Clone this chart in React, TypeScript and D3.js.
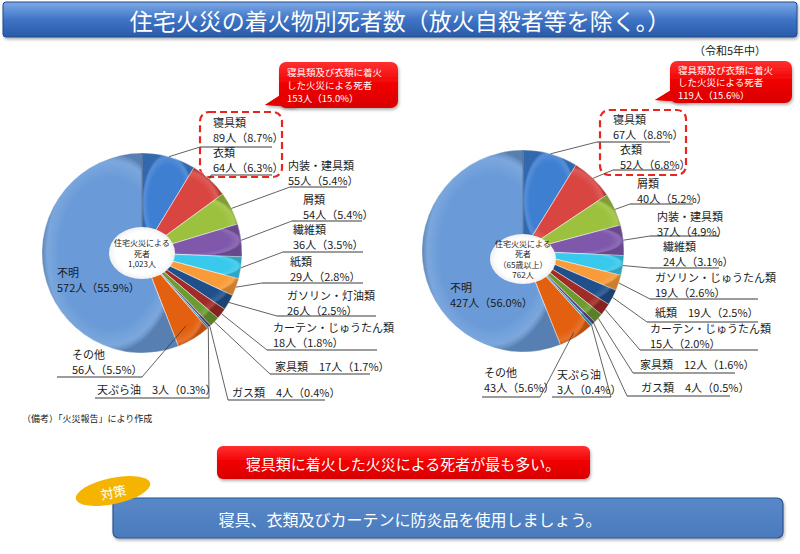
import React from "react";
import * as d3 from "d3";

const FONT = '"Noto Sans CJK JP", "Noto Sans", sans-serif';

// ---------- data ----------
const leftCategories = ["寝具類", "衣類", "内装・建具類", "屑類", "繊維類", "紙類", "ガソリン・灯油類", "カーテン・じゅうたん類", "家具類", "ガス類", "天ぷら油", "その他", "不明"];
const leftValues = [89, 64, 55, 54, 36, 29, 26, 18, 17, 4, 3, 56, 572];
const leftPercents = ["8.7", "6.3", "5.4", "5.4", "3.5", "2.8", "2.5", "1.8", "1.7", "0.4", "0.3", "5.5", "55.9"];

const rightCategories = ["寝具類", "衣類", "屑類", "内装・建具類", "繊維類", "ガソリン・じゅうたん類", "紙類", "カーテン・じゅうたん類", "家具類", "ガス類", "天ぷら油", "その他", "不明"];
const rightValues = [67, 52, 40, 37, 24, 19, 19, 15, 12, 4, 3, 43, 427];
const rightPercents = ["8.8", "6.8", "5.2", "4.9", "3.1", "2.6", "2.5", "2.0", "1.6", "0.5", "0.4", "5.6", "56.0"];

const leftCallout = ["寝具類及び衣類に着火", "した火災による死者", "153人（15.0%）"];
const rightCallout = ["寝具類及び衣類に着火", "した火災による死者", "119人（15.6%）"];
const leftCenter = ["住宅火災による", "死者"];
const rightCenter = ["住宅火災による", "死者", "（65歳以上）"];

const titleText = "住宅火災の着火物別死者数（放火自殺者等を除く。）";
const yearText = "（令和5年中）";
const noteText = "（備考）「火災報告」により作成";
const conclusionText = "寝具類に着火した火災による死者が最も多い。";
const measureTag = "対策";
const measureText = "寝具、衣類及びカーテンに防炎品を使用しましょう。";

// ---------- styles ----------
const sliceColors = ["#3e7fd2", "#d94541", "#9cc13e", "#7f58ab", "#38c9ec", "#f89b38", "#1f508c", "#a12b26", "#6c9b32", "#5b4081", "#2a9bbf", "#e36010", "#6a9bd8"];

type Lbl = { x: number; y: number; one?: boolean; uy?: number; ux1?: number; ux2?: number; end?: "l" | "r"; k?: number };

const leftLayout: Lbl[] = [
  { x: 213, y: 127, uy: 147, ux1: 200, ux2: 272, end: "l" },
  { x: 213, y: 157, uy: 175, ux1: 211, ux2: 272, end: "l" },
  { x: 288, y: 170, uy: 187, ux1: 290, ux2: 347, end: "l" },
  { x: 303, y: 204, uy: 221, ux1: 292, ux2: 362, end: "l" },
  { x: 293, y: 234, uy: 252, ux1: 283, ux2: 363, end: "l" },
  { x: 290, y: 266, uy: 283, ux1: 262, ux2: 363, end: "l" },
  { x: 287, y: 300, uy: 316, ux1: 277, ux2: 376, end: "l" },
  { x: 273, y: 332, uy: 350, ux1: 267, ux2: 377, end: "l" },
  { x: 275, y: 371, one: true, uy: 374, ux1: 270, ux2: 370, end: "l" },
  { x: 232, y: 397, one: true, uy: 400, ux1: 228, ux2: 325, end: "l" },
  { x: 97, y: 394, one: true, uy: 398, ux1: 95, ux2: 209, end: "r" },
  { x: 72, y: 359, uy: 377, ux1: 57, ux2: 142, end: "r", k: 0.85 },
  { x: 57, y: 277 },
];

const rightLayout: Lbl[] = [
  { x: 613, y: 124, uy: 142, ux1: 597, ux2: 670, end: "l" },
  { x: 620, y: 154, uy: 170, ux1: 613, ux2: 676, end: "l" },
  { x: 637, y: 188, uy: 204, ux1: 630, ux2: 693, end: "l" },
  { x: 657, y: 221, uy: 236, ux1: 650, ux2: 719, end: "l" },
  { x: 663, y: 251, uy: 268, ux1: 650, ux2: 719, end: "l" },
  { x: 655, y: 282, uy: 299, ux1: 650, ux2: 758, end: "l" },
  { x: 655, y: 317, one: true, uy: 322, ux1: 647, ux2: 758, end: "l" },
  { x: 650, y: 333, uy: 350, ux1: 640, ux2: 758, end: "l" },
  { x: 640, y: 369, one: true, uy: 373, ux1: 633, ux2: 735, end: "l" },
  { x: 641, y: 392, one: true, uy: 396, ux1: 627, ux2: 730, end: "l" },
  { x: 557, y: 379, uy: 397, ux1: 552, ux2: 611, end: "r" },
  { x: 484, y: 377, uy: 397, ux1: 482, ux2: 540, end: "r", k: 0.95 },
  { x: 450, y: 292 },
];

type PieProps = {
  id: string; cx: number; cy: number; r: number;
  categories: string[]; values: number[]; percents: string[];
  layout: Lbl[]; centerLines: string[]; rx: number; ry: number; ccy: number;
};

function Pie({ id, cx, cy, r, categories, values, percents, layout, centerLines, rx, ry, ccy }: PieProps) {
  const pie = d3.pie<number>().sort(null).value((d) => d).startAngle(0).endAngle(2 * Math.PI);
  const arcs = pie(values);
  const arc = d3.arc<d3.PieArcDatum<number>>().innerRadius(0).outerRadius(r);
  const total = d3.sum(values);
  const fmt = d3.format(",");
  const lines = [...centerLines, `${fmt(total)}人`];
  return (
    <g>
      <defs>
        <radialGradient id={`${id}-shade`} cx="0.5" cy="0.5" r="0.5">
          <stop offset="0.75" stopColor="#ffffff" stopOpacity="0" />
          <stop offset="0.92" stopColor="#ffffff" stopOpacity="0.12" />
          <stop offset="1" stopColor="#000000" stopOpacity="0.18" />
        </radialGradient>
        <radialGradient id={`${id}-hole`} cx="0.5" cy="0.5" r="0.5">
          <stop offset="0.8" stopColor="#ffffff" />
          <stop offset="1" stopColor="#f0f0f0" />
        </radialGradient>
      </defs>
      <g transform={`translate(${cx},${cy})`}>
        {arcs.map((a, i) => (
          <path key={i} d={arc(a) || ""} fill={sliceColors[i]} stroke="#ffffff" strokeOpacity={0.6} strokeWidth={0.8} />
        ))}
        {arcs.map((a, i) => (
          <path key={`s${i}`} d={arc(a) || ""} fill={`url(#${id}-shade)`} />
        ))}
        <line x1={0} y1={0} x2={0} y2={-r} stroke="#2d4f80" strokeWidth={0.8} />
      </g>
      <ellipse cx={cx} cy={ccy} rx={rx} ry={ry} fill={`url(#${id}-hole)`} />
      {lines.map((t, i) => (
        <text key={i} x={cx} y={ccy + (i - (lines.length - 1) / 2) * 10.5} textAnchor="middle" dominantBaseline="central" fontSize={8} fill="#222" fontFamily={FONT}>{t}</text>
      ))}
      {arcs.map((a, i) => {
        const L = layout[i];
        const valStr = `${values[i]}人（${percents[i]}%）`;
        const mid = (a.startAngle + a.endAngle) / 2;
        const k = L.k ?? 1;
        const sx = cx + Math.sin(mid) * r * k;
        const sy = cy - Math.cos(mid) * r * k;
        const ex = L.end === "r" ? L.ux2! : L.ux1!;
        return (
          <g key={`l${i}`}>
            {L.end && (
              <>
                <line x1={sx} y1={sy} x2={ex} y2={L.uy!} stroke="#3a3a3a" strokeWidth={0.8} />
                <line x1={L.ux1!} y1={L.uy!} x2={L.ux2!} y2={L.uy!} stroke="#3a3a3a" strokeWidth={1} />
              </>
            )}
            {L.one ? (
              <text x={L.x} y={L.y} fontSize={11} fill="#1a1a1a" fontFamily={FONT}>{`${categories[i]}　${valStr}`}</text>
            ) : (
              <>
                <text x={L.x} y={L.y} fontSize={11} fill="#1a1a1a" fontFamily={FONT}>{categories[i]}</text>
                <text x={L.x} y={L.y + 15} fontSize={11} fill="#1a1a1a" fontFamily={FONT}>{valStr}</text>
              </>
            )}
          </g>
        );
      })}
    </g>
  );
}

function Callout({ x, y, w, h, tip, lines, gap }: { x: number; y: number; w: number; h: number; tip: [number, number]; lines: string[]; gap: number }) {
  const tail = `M${x + 3},${y + h - 14} L${tip[0]},${tip[1]} L${x + 18},${y + h - 1} Z`;
  return (
    <g>
      <path d={tail} fill="#e80000" filter="url(#shadow)" />
      <rect x={x} y={y} width={w} height={h} rx={7} fill="url(#redGrad)" filter="url(#shadow)" />
      <path d={tail} fill="#e60000" />
      {lines.map((t, i) => (
        <text key={i} x={x + 8} y={y + (h - (lines.length - 1) * gap) / 2 + i * gap} fontSize={9.5} fill="#ffffff" fontFamily={FONT} dominantBaseline="central">{t}</text>
      ))}
    </g>
  );
}

export default function App() {
  return (
    <svg width={800} height={554} style={{ position: "absolute", left: 0, top: 0, background: "#ffffff" }} fontFamily={FONT}>
      <defs>
        <linearGradient id="titleGrad" x1="0" y1="0" x2="0" y2="1">
          <stop offset="0" stopColor="#7eaae6" />
          <stop offset="0.5" stopColor="#3f74c6" />
          <stop offset="1" stopColor="#2a5aa8" />
        </linearGradient>
        <linearGradient id="redGrad" x1="0" y1="0" x2="0" y2="1">
          <stop offset="0" stopColor="#ff3030" />
          <stop offset="0.5" stopColor="#f00000" />
          <stop offset="1" stopColor="#d80000" />
        </linearGradient>
        <linearGradient id="blueGrad" x1="0" y1="0" x2="0" y2="1">
          <stop offset="0" stopColor="#5888c8" />
          <stop offset="1" stopColor="#4a7bbd" />
        </linearGradient>
        <filter id="shadow" x="-10%" y="-10%" width="120%" height="140%">
          <feDropShadow dx="1" dy="2" stdDeviation="1.5" floodColor="#000" floodOpacity="0.3" />
        </filter>
      </defs>

      {/* title */}
      <rect x={3} y={2} width={794} height={35} rx={3} fill="url(#titleGrad)" stroke="#1f4a8c" strokeWidth={1} filter="url(#shadow)" />
      <text x={400} y={20} textAnchor="middle" dominantBaseline="central" fontSize={23} fill="#ffffff" fontFamily={FONT}>{titleText}</text>

      <text x={730} y={50} textAnchor="middle" dominantBaseline="central" fontSize={11} fill="#1a1a1a">{yearText}</text>

      {/* dashed boxes */}
      <rect x={200} y={112} width={82} height={65} rx={9} fill="none" stroke="#e8261f" strokeWidth={2.2} strokeDasharray="7,4" />
      <rect x={600} y={110} width={86} height={65} rx={9} fill="none" stroke="#e8261f" strokeWidth={2.2} strokeDasharray="7,4" />

      <Pie id="lp" cx={142} cy={253} r={100} categories={leftCategories} values={leftValues} percents={leftPercents}
        layout={leftLayout} centerLines={leftCenter} rx={33} ry={26} ccy={253} />
      <Pie id="rp" cx={523} cy={251} r={101} categories={rightCategories} values={rightValues} percents={rightPercents}
        layout={rightLayout} centerLines={rightCenter} rx={33} ry={25} ccy={259} />

      <Callout x={279} y={62} w={119} h={46} gap={13} tip={[265, 105]} lines={leftCallout} />
      <Callout x={670} y={61} w={122} h={42} gap={12.5} tip={[655, 100]} lines={rightCallout} />

      <text x={22} y={418} fontSize={9} fill="#1a1a1a" dominantBaseline="central">{noteText}</text>

      {/* conclusion */}
      <rect x={217} y={446} width={373} height={33} rx={6} fill="url(#redGrad)" filter="url(#shadow)" />
      <text x={403} y={463} textAnchor="middle" dominantBaseline="central" fontSize={15} fill="#ffffff">{conclusionText}</text>

      <rect x={113} y={498} width={670} height={40} rx={6} fill="url(#blueGrad)" stroke="#2f5490" strokeWidth={1.2} filter="url(#shadow)" />
      <text x={410} y={519} textAnchor="middle" dominantBaseline="central" fontSize={16} fill="#ffffff">{measureText}</text>

      <g transform="translate(113,491) rotate(-12)">
        <ellipse cx={0} cy={0} rx={38} ry={13} fill="#f5b400" />
        <text x={0} y={1} textAnchor="middle" dominantBaseline="central" fontSize={13} fill="#ffffff">{measureTag}</text>
      </g>
    </svg>
  );
}
